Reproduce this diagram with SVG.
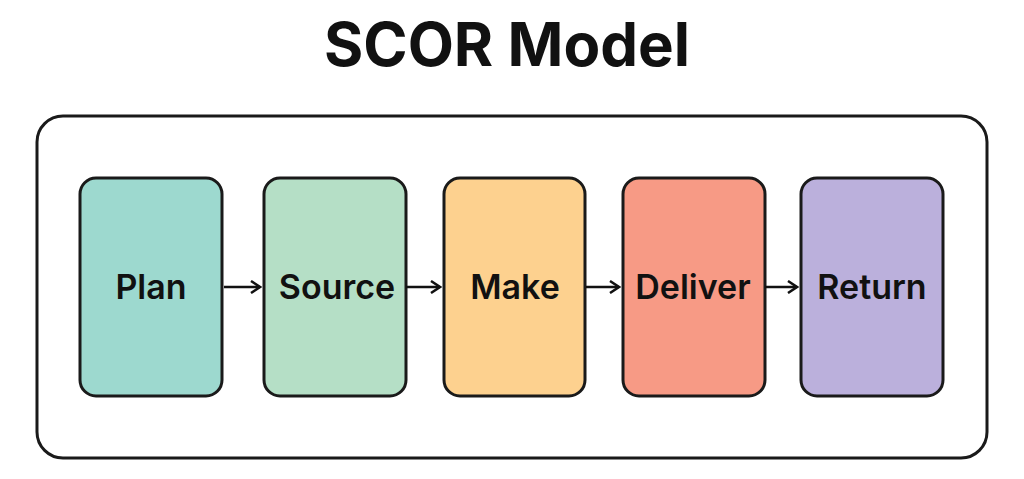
<svg xmlns="http://www.w3.org/2000/svg" width="1024" height="479" viewBox="0 0 1024 479">
<style>
.n{stroke:#1a1a1a;stroke-width:3}
.t{font-family:Inter,"Liberation Sans",sans-serif;font-weight:600;font-size:34px;fill:#111;text-anchor:middle}
.c{stroke:#111;stroke-width:2.5;fill:none}
</style>
<defs><marker id="a" markerWidth="12" markerHeight="14" refX="10" refY="7" orient="auto" markerUnits="userSpaceOnUse"><path d="M1,1 L10,7 L1,13" fill="none" stroke="#111" stroke-width="2.5"/></marker></defs>
<rect width="1024" height="479" fill="#fff"/>
<text x="507" y="66" font-family="Inter,'Liberation Sans',sans-serif" font-weight="700" font-size="60" text-anchor="middle" fill="#111">SCOR Model</text>
<rect x="37" y="116" width="950" height="342" rx="26" fill="#fff" stroke="#1a1a1a" stroke-width="3"/>
<g id="plan"><rect class="n" x="80" y="178" width="142" height="218" rx="16" fill="#9dd9cf"/><text class="t" x="151" y="299">Plan</text></g>
<g id="source"><rect class="n" x="264" y="178" width="142" height="218" rx="16" fill="#b5dfc6"/><text class="t" x="337" y="299">Source</text></g>
<g id="make"><rect class="n" x="444" y="178" width="141" height="218" rx="16" fill="#fdd18f"/><text class="t" x="515" y="299">Make</text></g>
<g id="deliver"><rect class="n" x="623" y="178" width="142" height="218" rx="16" fill="#f79a85"/><text class="t" x="693" y="299">Deliver</text></g>
<g id="return"><rect class="n" x="801" y="178" width="142" height="218" rx="16" fill="#bbb0dc"/><text class="t" x="872" y="299">Return</text></g>
<g id="connectors">
<line class="c" x1="224" y1="287" x2="260" y2="287" marker-end="url(#a)"/>
<line class="c" x1="406" y1="287" x2="440" y2="287" marker-end="url(#a)"/>
<line class="c" x1="586" y1="287" x2="619" y2="287" marker-end="url(#a)"/>
<line class="c" x1="765" y1="287" x2="797" y2="287" marker-end="url(#a)"/>
</g>
</svg>
